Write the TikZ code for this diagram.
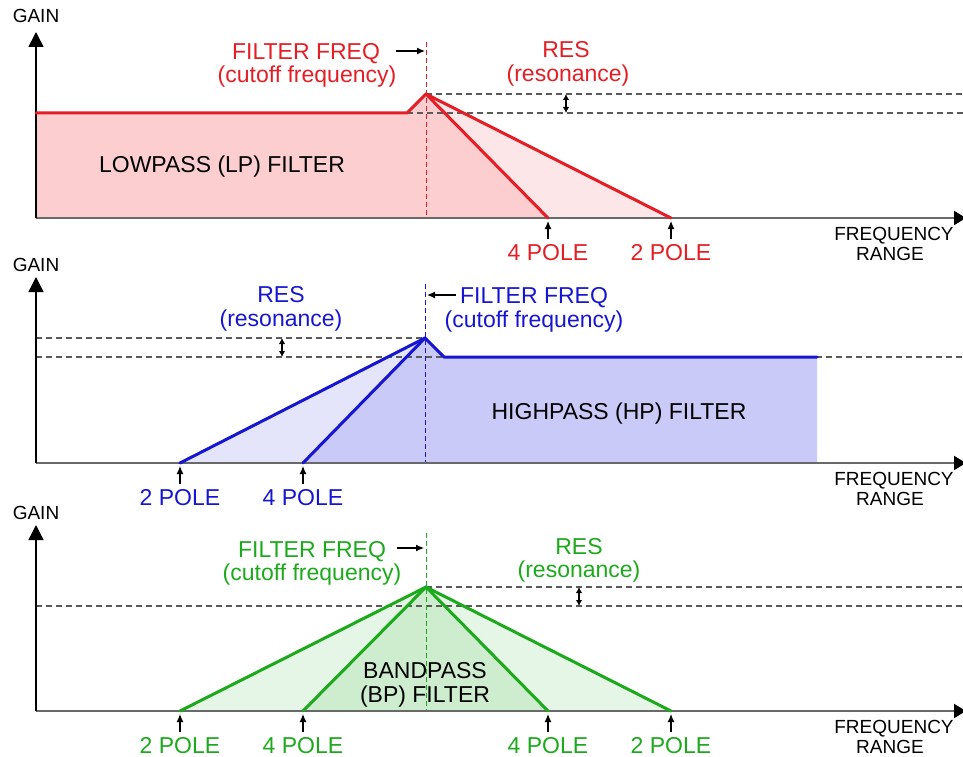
\documentclass[tikz,border=0pt]{standalone}
\usepackage{fontspec}
\setmainfont{Liberation Sans}
\usetikzlibrary{arrows.meta}
\definecolor{lpred}{RGB}{228,30,36}
\definecolor{lpdark}{RGB}{252,206,208}
\definecolor{lplight}{RGB}{253,230,232}
\definecolor{hpblue}{RGB}{22,22,210}
\definecolor{hpdark}{RGB}{202,202,248}
\definecolor{hplight}{RGB}{228,228,250}
\definecolor{bpgreen}{RGB}{28,170,28}
\definecolor{bpdark}{RGB}{206,237,206}
\definecolor{bplight}{RGB}{230,246,230}
\definecolor{axisgray}{RGB}{105,105,105}
\definecolor{dashgray}{RGB}{90,90,90}
\tikzset{
  yaxis/.style={draw=black, line width=1.4pt, -{Triangle[width=15pt,length=15pt]}},
  xaxis/.style={draw=axisgray, line width=2pt, -{Triangle[width=14pt,length=12pt,color=black]}},
  curve/.style={line width=3pt, line join=round, line cap=round},
  guide/.style={draw=dashgray, line width=1.2pt, dash pattern=on 6pt off 4pt},
  cutline/.style={line width=1pt, dash pattern=on 5pt off 3pt},
  pointer/.style={draw=black, line width=1.2pt, -{Latex[length=8pt,width=7pt]}},
  resarrow/.style={draw=black, line width=1.2pt, {Latex[length=6pt,width=6.5pt]}-{Latex[length=6pt,width=6.5pt]}},
  lbl/.style={font=\fontsize{23}{25}\selectfont, anchor=base, inner sep=0pt},
  axlbl/.style={font=\fontsize{19}{21}\selectfont, anchor=base, inner sep=0pt, text=black},
}
\begin{document}
\begin{tikzpicture}[x=1pt,y=-1pt]
\useasboundingbox (0,0) rectangle (963,757);

% ================= PANEL 1: LOWPASS =================
\coordinate (o1) at (36,218);
\coordinate (y1) at (36,32);
\coordinate (x1) at (966,218);
\coordinate (f1) at (36,113);
\coordinate (k1) at (407,113);
\coordinate (p1) at (426,94);
\coordinate (a1) at (548,218);
\coordinate (b1) at (671,218);
\coordinate (g1a) at (963,94);
\coordinate (g1b) at (963,113);
\coordinate (v1) at (426,42);
\coordinate (ra1) at (566,94);
\coordinate (rb1) at (566,113);
\fill[lplight] (p1) -- (b1) -- (a1) -- cycle;
\fill[lpdark] (f1) -- (k1) -- (p1) -- (a1) -- (o1) -- cycle;
\draw[guide] (p1) -- (g1a);
\draw[guide] (k1) -- (g1b);
\draw[cutline, lpred] (v1) -- (426,218);
\draw[xaxis] (o1) -- (x1);
\draw[yaxis] (o1) -- (y1);
\draw[curve, lpred] (f1) -- (k1) -- (p1) -- (a1);
\draw[curve, lpred] (p1) -- (b1);
\draw[resarrow] (ra1) -- (rb1);
\node[axlbl] (gain1) at (36,23) {GAIN};
\node[lbl, text=lpred] (ff1) at (306,60) {FILTER FREQ};
\node[lbl, text=lpred] (cf1) at (307,83) {(cutoff frequency)};
\coordinate (fa1) at (396,51);
\draw[pointer] (fa1) -- (425,51);
\node[lbl, text=lpred] (res1) at (566,58) {RES};
\node[lbl, text=lpred] (rs1) at (568,82) {(resonance)};
\node[lbl, text=black] (lp) at (222,172) {LOWPASS (LP) FILTER};
\node[lbl, text=lpred] (p41) at (548,260) {4 POLE};
\node[lbl, text=lpred] (p21) at (671,260) {2 POLE};
\coordinate (pa1) at (548,239);
\coordinate (pb1) at (671,239);
\draw[pointer] (pa1) -- (548,221);
\draw[pointer] (pb1) -- (671,221);
\node[axlbl] (fr1) at (894,240) {FREQUENCY};
\node[axlbl] (rg1) at (890,260) {RANGE};

% ================= PANEL 2: HIGHPASS =================
\coordinate (o2) at (36,463);
\coordinate (y2) at (36,277);
\coordinate (x2) at (966,463);
\coordinate (p2) at (425,338);
\coordinate (k2) at (444,357);
\coordinate (e2) at (817,357);
\coordinate (ee2) at (817,463);
\coordinate (a2) at (303,463);
\coordinate (b2) at (180,463);
\coordinate (g2a) at (36,338);
\coordinate (g2b) at (36,357);
\coordinate (g2c) at (963,357);
\coordinate (v2) at (425,284);
\coordinate (ra2) at (282,338);
\coordinate (rb2) at (282,357);
\fill[hplight] (b2) -- (p2) -- (a2) -- cycle;
\fill[hpdark] (a2) -- (p2) -- (k2) -- (e2) -- (ee2) -- cycle;
\draw[guide] (g2a) -- (p2);
\draw[guide] (g2b) -- (g2c);
\draw[cutline, hpblue] (v2) -- (425,463);
\draw[xaxis] (o2) -- (x2);
\draw[yaxis] (o2) -- (y2);
\draw[curve, hpblue] (b2) -- (p2) -- (k2) -- (e2);
\draw[curve, hpblue] (a2) -- (p2);
\draw[resarrow] (ra2) -- (rb2);
\node[axlbl] (gain2) at (36,271) {GAIN};
\node[lbl, text=hpblue] (res2) at (281,302) {RES};
\node[lbl, text=hpblue] (rs2) at (281,326) {(resonance)};
\node[lbl, text=hpblue] (ff2) at (534,303) {FILTER FREQ};
\node[lbl, text=hpblue] (cf2) at (534,327) {(cutoff frequency)};
\coordinate (fa2) at (456,295);
\draw[pointer] (fa2) -- (427,295);
\node[lbl, text=black] (hp) at (619,419) {HIGHPASS (HP) FILTER};
\node[lbl, text=hpblue] (p22) at (180,505) {2 POLE};
\node[lbl, text=hpblue] (p42) at (303,505) {4 POLE};
\coordinate (pa2) at (180,484);
\coordinate (pb2) at (303,484);
\draw[pointer] (pa2) -- (180,466);
\draw[pointer] (pb2) -- (303,466);
\node[axlbl] (fr2) at (894,485) {FREQUENCY};
\node[axlbl] (rg2) at (890,505) {RANGE};

% ================= PANEL 3: BANDPASS =================
\coordinate (o3) at (36,711);
\coordinate (y3) at (36,525);
\coordinate (x3) at (966,711);
\coordinate (p3) at (426,587);
\coordinate (a3) at (180,711);
\coordinate (b3) at (303,711);
\coordinate (c3) at (548,711);
\coordinate (d3) at (671,711);
\coordinate (g3a) at (963,587);
\coordinate (g3b) at (36,606);
\coordinate (g3c) at (963,606);
\coordinate (v3) at (426,533);
\coordinate (ra3) at (579,587);
\coordinate (rb3) at (579,606);
\fill[bplight] (a3) -- (p3) -- (d3) -- cycle;
\fill[bpdark] (b3) -- (p3) -- (c3) -- cycle;
\draw[guide] (p3) -- (g3a);
\draw[guide] (g3b) -- (g3c);
\draw[cutline, bpgreen] (v3) -- (426,711);
\draw[xaxis] (o3) -- (x3);
\draw[yaxis] (o3) -- (y3);
\draw[curve, bpgreen] (a3) -- (p3) -- (d3);
\draw[curve, bpgreen] (b3) -- (p3) -- (c3);
\draw[resarrow] (ra3) -- (rb3);
\node[axlbl] (gain3) at (36,519) {GAIN};
\node[lbl, text=bpgreen] (ff3) at (312,557) {FILTER FREQ};
\node[lbl, text=bpgreen] (cf3) at (312,580) {(cutoff frequency)};
\coordinate (fa3) at (397,548);
\draw[pointer] (fa3) -- (424,548);
\node[lbl, text=bpgreen] (res3) at (579,554) {RES};
\node[lbl, text=bpgreen] (rs3) at (579,577) {(resonance)};
\node[lbl, text=black] (bp1) at (425,678) {BANDPASS};
\node[lbl, text=black] (bp2) at (425,702) {(BP) FILTER};
\node[lbl, text=bpgreen] (p23) at (180,753) {2 POLE};
\node[lbl, text=bpgreen] (p43) at (303,753) {4 POLE};
\node[lbl, text=bpgreen] (p43b) at (548,753) {4 POLE};
\node[lbl, text=bpgreen] (p23b) at (671,753) {2 POLE};
\coordinate (pa3) at (180,732);
\coordinate (pb3) at (303,732);
\coordinate (pc3) at (548,732);
\coordinate (pd3) at (671,732);
\draw[pointer] (pa3) -- (180,714);
\draw[pointer] (pb3) -- (303,714);
\draw[pointer] (pc3) -- (548,714);
\draw[pointer] (pd3) -- (671,714);
\node[axlbl] (fr3) at (894,733) {FREQUENCY};
\node[axlbl] (rg3) at (890,753) {RANGE};
\end{tikzpicture}
\end{document}
